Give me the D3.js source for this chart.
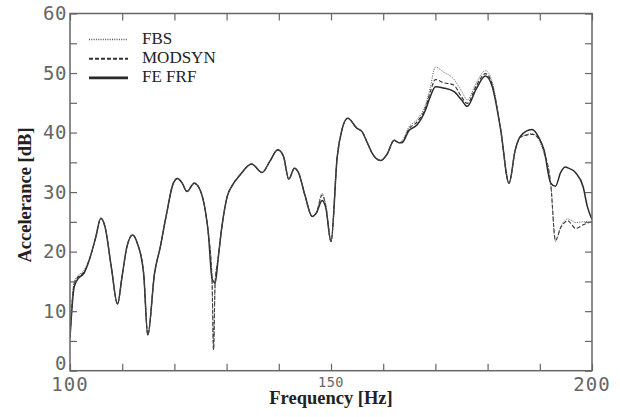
<!DOCTYPE html>
<html>
<head>
<meta charset="utf-8">
<script src="https://cdn.jsdelivr.net/npm/d3@7/dist/d3.min.js"></script>
<style>
  body { margin: 0; background: #fff; }
  svg { display: block; }
</style>
</head>
<body>
<div id="chart"></div>
<script>
// frequency samples [Hz] shared by all three curves
var freq = [100, 100.8, 101.6, 102.7, 103.8, 104.9, 105.9, 106.7, 107.9, 109.1,
	110.0, 110.9, 112.0, 112.9, 114.1, 114.9, 116.2, 117.3, 118.4, 119.8,
	120.6, 121.5, 122.4, 123.8, 124.9, 125.9, 126.5, 127.2, 127.5, 127.8,
	128.4, 129.1, 130.1, 131.0, 132.6, 134.8, 136.8, 138.3, 139.8, 140.9,
	141.9, 143.0, 143.8, 145.0, 146.4, 147.2, 148.3, 149.0, 150.0, 151.2,
	152.1, 153.2, 155.0, 155.9, 157.0, 157.9, 159.5, 160.7, 162.1, 163.0,
	163.6, 164.9, 166.5, 168.1, 169.0, 170.0, 171.5, 173.5, 175.0, 176.1,
	177.8, 179.6, 180.9, 182.5, 184.1, 185.3, 186.3, 188.5, 189.8, 190.8,
	192.1, 193.0, 194.0, 194.9, 195.3, 196.9, 198.3, 199.1, 200];

var feFrf = [5.5, 14.1, 15.5, 16.4, 18.9, 22.3, 25.6, 24.2, 17.5, 11.2,
	16.0, 20.8, 22.8, 21.4, 16.4, 6.0, 16.4, 20.8, 25.9, 31.5,
	32.3, 31.5, 30.1, 31.5, 30.4, 27.0, 23.1, 15.5, 15.0, 14.7,
	19.0, 24.2, 29.2, 31.0, 32.9, 34.7, 33.3, 35.2, 37.1, 36.0,
	32.2, 34.0, 33.2, 29.5, 25.9, 26.5, 28.6, 27.4, 21.7, 36.0,
	40.5, 42.4, 40.7, 40.2, 38.2, 36.5, 35.3, 36.3, 38.7, 38.3,
	38.3, 40.3, 41.3, 43.8, 46.0, 47.7, 47.5, 46.9, 45.5, 44.4,
	47.3, 49.5, 47.7, 40.5, 31.5, 37.1, 39.4, 40.5, 39.2, 37.1,
	31.5, 31.0, 33.3, 34.2, 34.1, 33.2, 30.9, 27.6, 25.4];

var fbs = [5.5, 15.0, 16.0, 16.9, 18.9, 22.3, 25.6, 24.2, 17.5, 11.2,
	16.0, 20.8, 22.8, 21.4, 16.4, 6.0, 16.4, 20.8, 25.9, 31.5,
	32.3, 31.5, 30.1, 31.5, 30.4, 27.0, 23.1, 15.5, 3.5, 14.7,
	19.0, 24.2, 29.2, 31.0, 32.9, 34.7, 33.3, 35.2, 37.1, 36.0,
	32.2, 34.0, 33.2, 29.5, 25.9, 26.5, 29.8, 27.9, 21.7, 36.0,
	40.5, 42.4, 40.7, 40.2, 38.2, 36.5, 35.3, 36.3, 38.7, 38.3,
	38.6, 40.9, 42.2, 44.7, 47.5, 51.0, 50.2, 49.0, 47.0, 45.5,
	48.3, 50.4, 48.5, 40.5, 31.5, 37.1, 39.2, 39.8, 38.8, 36.5,
	31.3, 21.7, 24.2, 25.3, 25.5, 24.9, 25.0, 25.0, 25.0];

var modsyn = [5.5, 14.6, 15.8, 16.6, 18.9, 22.3, 25.6, 24.2, 17.5, 11.2,
	16.0, 20.8, 22.8, 21.4, 16.4, 6.0, 16.4, 20.8, 25.9, 31.5,
	32.3, 31.5, 30.1, 31.5, 30.4, 27.0, 23.1, 15.5, 3.5, 14.7,
	19.0, 24.2, 29.2, 31.0, 32.9, 34.7, 33.3, 35.2, 37.1, 36.0,
	32.2, 34.0, 33.2, 29.5, 25.9, 26.5, 29.5, 27.7, 21.7, 36.0,
	40.5, 42.4, 40.7, 40.2, 38.2, 36.5, 35.3, 36.3, 38.7, 38.3,
	38.4, 40.6, 41.8, 44.2, 46.8, 48.9, 48.4, 48.0, 46.0, 44.9,
	47.8, 49.9, 48.0, 40.5, 31.5, 37.1, 39.2, 39.7, 39.0, 36.8,
	31.3, 21.9, 24.0, 25.0, 25.2, 23.9, 24.5, 24.8, 25.0];

var seriesNames = ['FBS', 'MODSYN', 'FE FRF'];
var xLabels = [100, 150, 200];
var yLabels = [0, 10, 20, 30, 40, 50, 60];

function drawChart() {
	var W = 620, H = 417;
	var pLeft = 70, pRight = 592, pTop = 13.5, pBottom = 370.7;

	var svg = d3.select('#chart').append('svg')
		.attr('width', W).attr('height', H);

	var x = d3.scaleLinear().domain([100, 200]).range([pLeft, pRight]);
	var y = d3.scaleLinear().domain([0, 60]).range([pBottom, pTop]);

	var styles = {
		'FE FRF': {color: '#2a2a2a', width: 1.5, dash: null, legendWidth: 2.6},
		'MODSYN': {color: '#333', width: 1.1, dash: '4,2', legendWidth: 2},
		'FBS': {color: '#555', width: 1, dash: '1,1.3', legendWidth: 1.5}
	};
	var values = {'FBS': fbs, 'MODSYN': modsyn, 'FE FRF': feFrf};

	svg.append('clipPath').attr('id', 'plot-clip')
		.append('rect')
		.attr('x', pLeft).attr('y', pTop)
		.attr('width', pRight - pLeft).attr('height', pBottom - pTop);

	var line = d3.line()
		.x(function (d) { return x(d[0]); })
		.y(function (d) { return y(d[1]); })
		.curve(d3.curveMonotoneX);

	// draw solid first so the dotted dips stay visible
	['FE FRF', 'MODSYN', 'FBS'].forEach(function (name) {
		var st = styles[name];
		svg.append('path')
			.datum(d3.zip(freq, values[name]))
			.attr('clip-path', 'url(#plot-clip)')
			.attr('fill', 'none')
			.attr('stroke', st.color)
			.attr('stroke-width', st.width)
			.attr('stroke-dasharray', st.dash)
			.attr('stroke-linejoin', 'round')
			.attr('d', line);
	});

	// frame + inward ticks
	var tickLen = 7;
	var axisColor = '#666';
	function styleAxis(g) {
		g.select('.domain').remove();
		g.selectAll('.tick line').attr('stroke', axisColor).attr('stroke-width', 1.2);
	}

	var xTicks = d3.range(100, 201, 10);
	var yTicks = d3.range(0, 61, 5);

	svg.append('g').attr('transform', 'translate(0,' + pBottom + ')')
		.call(d3.axisBottom(x).tickValues(xTicks).tickSize(-tickLen).tickFormat(''))
		.call(styleAxis);
	svg.append('g').attr('transform', 'translate(0,' + pTop + ')')
		.call(d3.axisTop(x).tickValues(xTicks).tickSize(-tickLen).tickFormat(''))
		.call(styleAxis);
	svg.append('g').attr('transform', 'translate(' + pLeft + ',0)')
		.call(d3.axisLeft(y).tickValues(yTicks).tickSize(-tickLen).tickFormat(''))
		.call(styleAxis);
	svg.append('g').attr('transform', 'translate(' + pRight + ',0)')
		.call(d3.axisRight(y).tickValues(yTicks).tickSize(-tickLen).tickFormat(''))
		.call(styleAxis);

	svg.append('rect')
		.attr('x', pLeft).attr('y', pTop)
		.attr('width', pRight - pLeft).attr('height', pBottom - pTop)
		.attr('fill', 'none')
		.attr('stroke', axisColor)
		.attr('stroke-width', 1.5);

	// tick labels
	var monoFont = "'DejaVu Sans Mono', monospace";
	svg.selectAll('.xlab').data(xLabels).enter().append('text')
		.attr('class', 'xlab')
		.attr('x', function (d) { return x(d); })
		.attr('y', function (d) { return d === 150 ? 386.5 : 390.5; })
		.attr('text-anchor', 'middle')
		.attr('font-family', monoFont)
		.attr('font-size', function (d) { return d === 150 ? 13.5 : 19; })
		.attr('letter-spacing', function (d) { return d === 150 ? 0.5 : 1; })
		.attr('fill', '#666')
		.text(function (d) { return d; });

	svg.selectAll('.ylab').data(yLabels).enter().append('text')
		.attr('class', 'ylab')
		.attr('x', pLeft - 3)
		.attr('y', function (d) { return d === 0 ? y(d) - 8 : y(d); })
		.attr('dy', '0.36em')
		.attr('text-anchor', 'end')
		.attr('font-family', monoFont)
		.attr('font-size', 19)
		.attr('letter-spacing', 0.5)
		.attr('fill', '#666')
		.text(function (d) { return d; });

	// axis titles
	var serif = "'Liberation Serif', 'Times New Roman', serif";
	svg.append('text')
		.attr('x', (pLeft + pRight) / 2).attr('y', 404)
		.attr('text-anchor', 'middle')
		.attr('font-family', serif).attr('font-weight', 'bold').attr('font-size', 18.5)
		.attr('fill', '#222')
		.text('Frequency [Hz]');

	svg.append('text')
		.attr('transform', 'translate(31,195) rotate(-90)')
		.attr('text-anchor', 'middle')
		.attr('font-family', serif).attr('font-weight', 'bold').attr('font-size', 18.5)
		.attr('fill', '#222')
		.text('Accelerance [dB]');

	// legend
	var legend = svg.append('g');
	seriesNames.forEach(function (name, i) {
		var st = styles[name];
		var ly = 39.5 + i * 19.2;
		legend.append('line')
			.attr('x1', 89).attr('x2', 128)
			.attr('y1', ly).attr('y2', ly)
			.attr('stroke', st.color)
			.attr('stroke-width', st.legendWidth)
			.attr('stroke-dasharray', st.dash);
		legend.append('text')
			.attr('x', 142).attr('y', ly + 4.5)
			.attr('font-family', serif).attr('font-size', 17)
			.attr('fill', '#222')
			.text(name);
	});
}

drawChart();
</script>
</body>
</html>
